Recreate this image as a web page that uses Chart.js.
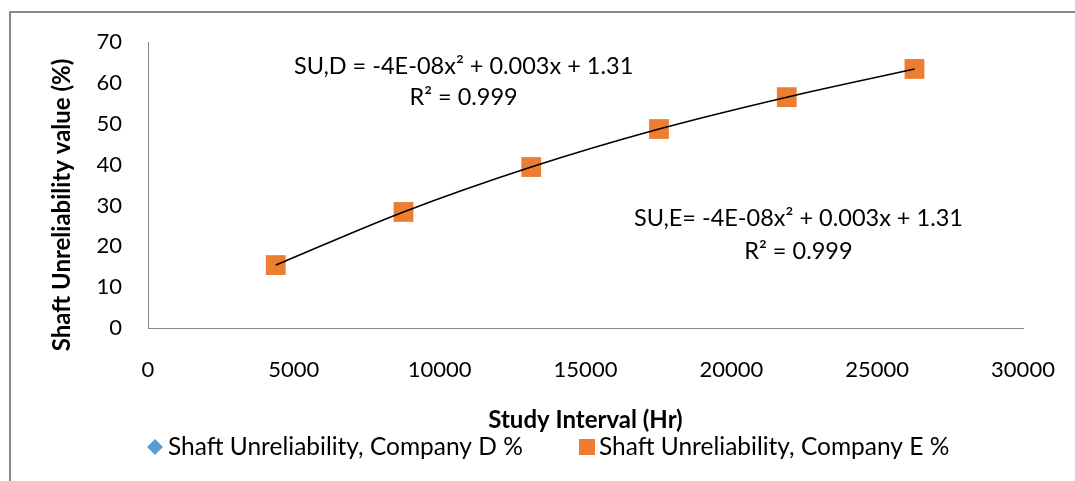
<!DOCTYPE html>
<html>
<head>
<meta charset="utf-8">
<script src="https://cdn.jsdelivr.net/npm/chart.js@4.4.0/dist/chart.umd.min.js"></script>
<style>
  html, body { margin: 0; padding: 0; background: #ffffff; }
  #wrap { position: relative; width: 1075px; height: 481px; overflow: hidden; }
  #frame { position: absolute; left: 9px; top: 11px; width: 1200px; height: 600px;
           border-left: 2px solid #8a8a8a; border-top: 2px solid #8a8a8a; }
  canvas { position: absolute; left: 0; top: 0; }
</style>
</head>
<body>
<div id="wrap">
  <div id="frame"></div>
  <canvas id="c" width="1075" height="481"></canvas>
</div>
<script>
// ---- data ----
const studyHours = [4380, 8760, 13140, 17520, 21900, 26280];
const companyD   = [15.4, 28.4, 39.4, 48.7, 56.5, 63.4];
const companyE   = [15.4, 28.4, 39.4, 48.7, 56.5, 63.4];
const xTickValues = [0, 5000, 10000, 15000, 20000, 25000, 30000];
const yTickValues = [0, 10, 20, 30, 40, 50, 60, 70];
const seriesNames = ['Shaft Unreliability, Company D %', 'Shaft Unreliability, Company E %'];
const xTitle = 'Study Interval (Hr)';
const yTitle = 'Shaft Unreliability value (%)';
const eqDLines = ['SU,D = -4E-08x\u00B2 + 0.003x + 1.31', 'R\u00B2 = 0.999'];
const eqELines = ['SU,E= -4E-08x\u00B2 + 0.003x + 1.31', 'R\u00B2 = 0.999'];
// anchor (data coords) for the equation labels: [x, y of line 1, y of line 2]
const eqDAnchor = [10820, 64.1, 56.5];
const eqEAnchor = [22300, 26.9, 18.8];

const FONT = 'Lato, "Open Sans", sans-serif';
const toPts = (xs, ys) => xs.map((x, i) => ({ x: x, y: ys[i] }));

const overlay = {
  id: 'overlay',
  afterDraw(chart) {
    const ctx = chart.ctx;
    const xs = chart.scales.x, ys = chart.scales.y;
    ctx.save();
    ctx.fillStyle = '#000';
    // equations
    ctx.font = '23.5px ' + FONT;
    ctx.textAlign = 'center';
    ctx.textBaseline = 'middle';
    [[eqDLines, eqDAnchor], [eqELines, eqEAnchor]].forEach(([lines, a]) => {
      const px = xs.getPixelForValue(a[0]);
      ctx.fillText(lines[0], px, ys.getPixelForValue(a[1]));
      ctx.fillText(lines[1], px, ys.getPixelForValue(a[2]));
    });
    // y axis title
    ctx.save();
    ctx.translate(62, 205);
    ctx.rotate(-Math.PI / 2);
    ctx.font = 'bold 24px ' + FONT;
    ctx.fillText(yTitle, 0, 0);
    ctx.restore();
    // legend
    const ly = 447;
    ctx.font = '24.5px ' + FONT;
    ctx.textAlign = 'left';
    ctx.fillStyle = '#5B9BD5';
    ctx.beginPath();
    ctx.moveTo(155, ly - 8); ctx.lineTo(163, ly); ctx.lineTo(155, ly + 8); ctx.lineTo(147, ly);
    ctx.closePath(); ctx.fill();
    ctx.fillStyle = '#000';
    ctx.fillText(seriesNames[0], 168, ly);
    ctx.fillStyle = '#ED7D31';
    ctx.fillRect(579, ly - 8, 16, 16);
    ctx.fillStyle = '#000';
    ctx.fillText(seriesNames[1], 599, ly);
    ctx.restore();
  }
};

new Chart(document.getElementById('c'), {
  type: 'scatter',
  data: {
    datasets: [
      {
        label: 'Trend',
        type: 'line',
        data: toPts(studyHours, companyE),
        borderColor: '#000000',
        borderWidth: 1.6,
        pointRadius: 0,
        cubicInterpolationMode: 'monotone',
        fill: false,
        order: 0
      },
      {
        label: seriesNames[1],
        data: toPts(studyHours, companyE),
        pointStyle: 'rect',
        pointRadius: 14,
        pointHoverRadius: 14,
        backgroundColor: '#ED7D31',
        borderColor: '#ED7D31',
        borderWidth: 0,
        order: 1
      },
      {
        label: seriesNames[0],
        data: toPts(studyHours, companyD),
        pointStyle: 'rectRot',
        pointRadius: 8,
        backgroundColor: '#5B9BD5',
        borderColor: '#5B9BD5',
        borderWidth: 0,
        order: 2
      }
    ]
  },
  options: {
    responsive: false,
    animation: false,
    events: [],
    layout: { padding: { top: 42, right: 52, bottom: 46, left: 0 } },
    plugins: { legend: { display: false }, tooltip: { enabled: false } },
    scales: {
      x: {
        type: 'linear',
        min: 0, max: 30000,
        afterBuildTicks: s => { s.ticks = xTickValues.map(v => ({ value: v })); },
        afterFit: s => { s.height = 107; s.paddingLeft = 0; s.paddingRight = 0; },
        grid: { display: false, drawTicks: false },
        border: { display: true, color: '#898989', width: 1 },
        ticks: { color: '#000', padding: 29, font: { family: FONT, size: 22 }, callback: v => String(v) },
        title: { display: true, text: xTitle, color: '#000', font: { family: FONT, size: 24, weight: 'bold' }, padding: { top: 20, bottom: 0 } }
      },
      y: {
        type: 'linear',
        min: 0, max: 70,
        afterBuildTicks: s => { s.ticks = yTickValues.map(v => ({ value: v })); },
        afterFit: s => { s.width = 148; s.paddingTop = 0; s.paddingBottom = 0; },
        grid: { display: false, drawTicks: false },
        border: { display: true, color: '#898989', width: 1 },
        ticks: { color: '#000', padding: 26, font: { family: FONT, size: 22 }, callback: v => String(v) }
      }
    }
  },
  plugins: [overlay]
});
</script>
</body>
</html>
